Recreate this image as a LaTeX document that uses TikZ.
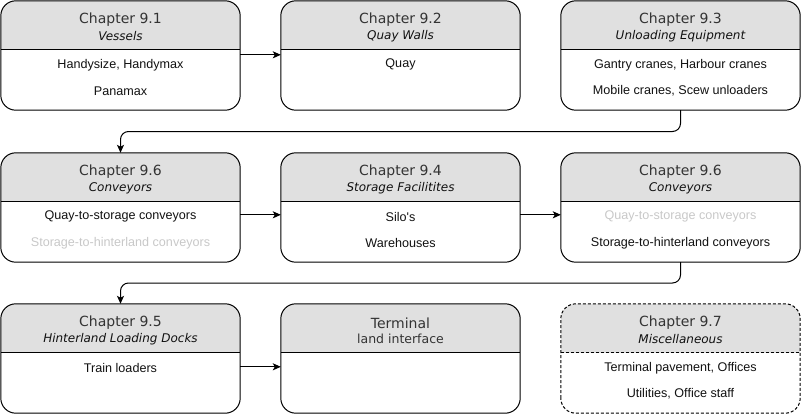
\documentclass[tikz,border=0pt]{standalone}
\usepackage{fontspec}
\setmainfont{Liberation Sans}
\newfontfamily\hdrfont{DejaVu Sans}
\newfontfamily\bodyfont{Liberation Sans}
\usetikzlibrary{calc,arrows.meta}
\definecolor{hdrgray}{HTML}{E0E0E0}
\definecolor{hdrtext}{HTML}{333333}
\definecolor{bodytext}{HTML}{111111}
\definecolor{fadetext}{HTML}{C8C8C8}
\tikzset{
  boxshape/.style={rectangle, minimum width=239pt, minimum height=109pt, inner sep=0pt},
  boxline/.style={draw=black, line width=1pt, rounded corners=15pt},
  hd/.style={inner sep=0pt, text=hdrtext, font=\hdrfont\fontsize{14}{16}\selectfont},
  hdit/.style={inner sep=0pt, text=bodytext, font=\hdrfont\itshape\fontsize{12}{14}\selectfont},
  hdsub/.style={inner sep=0pt, text=hdrtext, font=\hdrfont\fontsize{12.5}{14}\selectfont},
  bd/.style={inner sep=0pt, text=bodytext, font=\bodyfont\fontsize{12.6}{14}\selectfont},
  fade/.style={bd, text=fadetext},
  arr/.style={draw=black, line width=1pt, -{Stealth[length=8pt,width=7pt,inset=2pt]}},
}
\newcommand\chapbox[2][]{%
  \begin{scope}
    \clip[rounded corners=15pt] (#2.south west) rectangle (#2.north east);
    \fill[hdrgray] (#2.north west) rectangle ($(#2.north east)+(0,49)$);
  \end{scope}
  \draw[line width=1pt,#1] ($(#2.north west)+(0,49)$) -- ($(#2.north east)+(0,49)$);
  \draw[boxline,#1] (#2.south west) rectangle (#2.north east);
}
\begin{document}
\begin{tikzpicture}[x=1pt,y=-1pt]
\useasboundingbox (0,0) rectangle (801,415);
% boxes
\node[boxshape] (n1) at (120.5,55.5) {};
\node[boxshape] (n2) at (400.5,55.5) {};
\node[boxshape] (n3) at (680.5,55.5) {};
\node[boxshape] (n4) at (120.5,207.5) {};
\node[boxshape] (n5) at (400.5,207.5) {};
\node[boxshape] (n6) at (680.5,207.5) {};
\node[boxshape] (n7) at (120.5,358.5) {};
\node[boxshape] (n8) at (400.5,358.5) {};
\node[boxshape] (n9) at (680.5,358.5) {};
\chapbox{n1}\chapbox{n2}\chapbox{n3}
\chapbox{n4}\chapbox{n5}\chapbox{n6}
\chapbox{n7}\chapbox{n8}\chapbox[dash pattern=on 3pt off 2pt]{n9}
% texts
\node[hd]   (t1a) at ($(n1.north)+(0,19)$) {Chapter 9.1};
\node[hdit] (t1b) at ($(n1.north)+(0,35)$) {Vessels};
\node[bd]   (t1c) at ($(n1.north)+(0,64)$) {Handysize, Handymax};
\node[bd]   (t1d) at ($(n1.north)+(0,90)$) {Panamax};

\node[hd]   (t2a) at ($(n2.north)+(0,19)$) {Chapter 9.2};
\node[hdit] (t2b) at ($(n2.north)+(0,35)$) {Quay Walls};
\node[bd]   (t2c) at ($(n2.north)+(0,64)$) {Quay};

\node[hd]   (t3a) at ($(n3.north)+(0,19)$) {Chapter 9.3};
\node[hdit] (t3b) at ($(n3.north)+(0,35)$) {Unloading Equipment};
\node[bd]   (t3c) at ($(n3.north)+(0,64)$) {Gantry cranes, Harbour cranes};
\node[bd]   (t3d) at ($(n3.north)+(0,90)$) {Mobile cranes, Scew unloaders};

\node[hd]   (t4a) at ($(n4.north)+(0,19)$) {Chapter 9.6};
\node[hdit] (t4b) at ($(n4.north)+(0,35)$) {Conveyors};
\node[bd]   (t4c) at ($(n4.north)+(0,64)$) {Quay-to-storage conveyors};
\node[fade] (t4d) at ($(n4.north)+(0,90)$) {Storage-to-hinterland conveyors};

\node[hd]   (t5a) at ($(n5.north)+(0,19)$) {Chapter 9.4};
\node[hdit] (t5b) at ($(n5.north)+(0,35)$) {Storage Facilitites};
\node[bd]   (t5c) at ($(n5.north)+(0,64)$) {Silo's};
\node[bd]   (t5d) at ($(n5.north)+(0,90)$) {Warehouses};

\node[hd]   (t6a) at ($(n6.north)+(0,19)$) {Chapter 9.6};
\node[hdit] (t6b) at ($(n6.north)+(0,35)$) {Conveyors};
\node[fade] (t6c) at ($(n6.north)+(0,64)$) {Quay-to-storage conveyors};
\node[bd]   (t6d) at ($(n6.north)+(0,90)$) {Storage-to-hinterland conveyors};

\node[hd]   (t7a) at ($(n7.north)+(0,19)$) {Chapter 9.5};
\node[hdit] (t7b) at ($(n7.north)+(0,35)$) {Hinterland Loading Docks};
\node[bd]   (t7c) at ($(n7.north)+(0,64)$) {Train loaders};

\node[hd]   (t8a) at ($(n8.north)+(0,19.5)$) {Terminal};
\node[hdsub] (t8b) at ($(n8.north)+(0,35)$) {land interface};

\node[hd]   (t9a) at ($(n9.north)+(0,19)$) {Chapter 9.7};
\node[hdit] (t9b) at ($(n9.north)+(0,35)$) {Miscellaneous};
\node[bd]   (t9c) at ($(n9.north)+(0,64)$) {Terminal pavement, Offices};
\node[bd]   (t9d) at ($(n9.north)+(0,90)$) {Utilities, Office staff};
% connectors
\draw[arr] ($(n1.north east)+(0,54)$) -- ($(n2.north west)+(0,54)$);
\draw[arr] ($(n4.north east)+(0,62)$) -- ($(n5.north west)+(0,62)$);
\draw[arr] ($(n5.north east)+(0,62)$) -- ($(n6.north west)+(0,62)$);
\draw[arr] ($(n7.north east)+(0,63)$) -- ($(n8.north west)+(0,63)$);
\coordinate (m1) at ($(n3.south)!0.5!(n4.north)$);
\coordinate (m2) at ($(n6.south)!0.5!(n7.north)$);
\draw[arr, rounded corners=8pt] (n3.south) |- (m1) -| (n4.north);
\draw[arr, rounded corners=8pt] (n6.south) |- (m2) -| (n7.north);
\end{tikzpicture}
\end{document}
